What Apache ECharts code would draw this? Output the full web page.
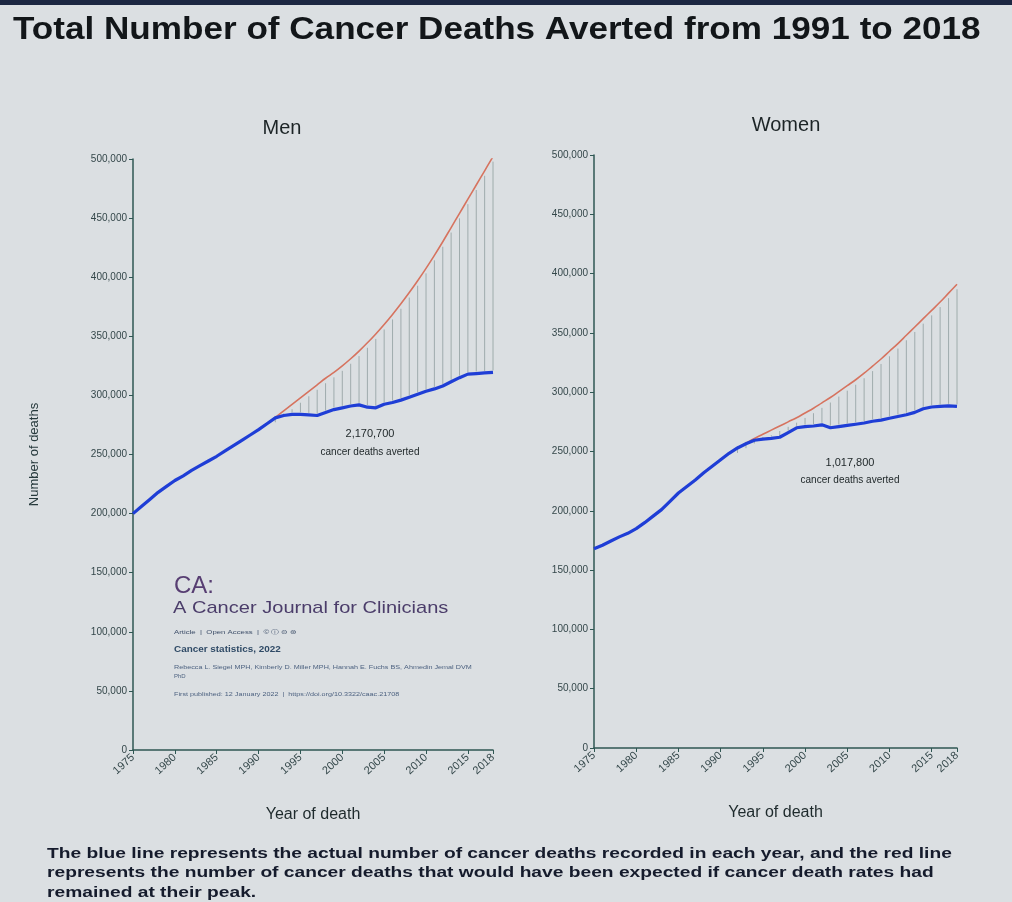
<!DOCTYPE html>
<html>
<head>
<meta charset="utf-8">
<style>
  html, body { margin: 0; padding: 0; background: #dbdfe2; }
  #chart { width: 1012px; height: 902px; }
</style>
<script src="https://cdn.jsdelivr.net/npm/echarts@6/dist/echarts.min.js"></script>
</head>
<body>
<div id="chart"></div>
<script>
// 年份（X 轴）
const years = [1975, 1976, 1977, 1978, 1979, 1980, 1981, 1982, 1983, 1984,
               1985, 1986, 1987, 1988, 1989, 1990, 1991, 1992, 1993, 1994,
               1995, 1996, 1997, 1998, 1999, 2000, 2001, 2002, 2003, 2004,
               2005, 2006, 2007, 2008, 2009, 2010, 2011, 2012, 2013, 2014,
               2015, 2016, 2017, 2018];
const peakYear = 1991;   // 死亡率峰值年份, 红线从这里开始

// 男性 实际死亡数 (蓝线)
const menActual = [200000, 206000, 212000, 218000, 223000, 228000, 232000, 236500, 240500, 244500,
                   248500, 253000, 257500, 262000, 266500, 271000, 276000, 281000, 283000, 284000,
                   284000, 283500, 283000, 285500, 288000, 289500, 291000, 292000, 290000, 289500,
                   292500, 294000, 296000, 298500, 301000, 303500, 305500, 308000, 311500, 315000,
                   318000, 318500, 319000, 319500];
// 男性 预期死亡数 1991-2018 (红线)
const menExpected = [276000, 281500, 287000, 292500, 298000, 303500, 309000, 314500, 319500, 325000,
                     331000, 337500, 344500, 352000, 360000, 368500, 377500, 387000, 397000, 407500,
                     418500, 430000, 442000, 454000, 466000, 478000, 490000, 502000];

// 女性 实际死亡数 (蓝线)
const womenActual = [168000, 171000, 174500, 178000, 181000, 185000, 190000, 195500, 201000, 208000,
                     215000, 220500, 226000, 232000, 237500, 243000, 248500, 253000, 256500, 259500,
                     260500, 261000, 262000, 266000, 270000, 271000, 271500, 272500, 270000, 271000,
                     272000, 273000, 274000, 275500, 276500, 278000, 279500, 281000, 283000, 286000,
                     287500, 288000, 288500, 288000];
// 女性 预期死亡数 1991-2018 (红线)
const womenExpected = [248500, 253000, 257000, 261000, 264500, 268000, 271500, 275000, 278500, 282500,
                       286500, 291000, 295500, 300500, 305500, 310500, 316000, 322000, 328000, 334500,
                       341000, 348000, 355000, 362000, 369000, 376000, 383500, 391000];

const avertedLabels = ['2,170,700', '1,017,800'];

const axisColor = '#2f5753';
const labelColor = '#34474a';
const font = 'Liberation Sans, Arial, sans-serif';

/**
 *  生成坐标轴配置
 *  @param { Number }  idx   grid 序号
 */
function makeXAxis(idx) {
    return {
        type: 'value', gridIndex: idx, min: 1975, max: 2018, interval: 5,
        name: 'Year of death', nameLocation: 'middle', nameGap: 57,
        nameTextStyle: { fontFamily: font, fontSize: 16, color: '#1e2a2c' },
        splitLine: { show: false },
        axisLine: { lineStyle: { color: axisColor, width: 1.5 } },
        axisTick: { lineStyle: { color: axisColor }, length: 4 },
        axisLabel: {
            rotate: 42, showMaxLabel: true, showMinLabel: true,
            fontFamily: font, fontSize: 11, color: labelColor, margin: 6,
            formatter: v => String(v)
        }
    };
}
function makeYAxis(idx, withName) {
    return {
        type: 'value', gridIndex: idx, min: 0, max: 500000, interval: 50000,
        name: withName ? 'Number of deaths' : '', nameLocation: 'middle', nameGap: 92, nameRotate: 90,
        nameTextStyle: { fontFamily: font, fontSize: 13, color: '#26393c' },
        splitLine: { show: false },
        axisLine: { show: true, lineStyle: { color: axisColor, width: 1.5 } },
        axisTick: { show: true, lineStyle: { color: axisColor }, length: 4 },
        axisLabel: {
            fontFamily: font, fontSize: 10, color: labelColor, margin: 6,
            formatter: v => v.toLocaleString('en-US')
        }
    };
}

/**
 *  生成一组系列: 阴影竖线 / 红线 / 蓝线
 */
function makeSeries(idx, actual, expected) {
    let start = years.indexOf(peakYear);
    let actualData = years.map((y, i) => [y, actual[i]]);
    let expectedData = expected.map((v, i) => [years[start + i], v]);
    let hatchData = expected.map((v, i) => [years[start + i], actual[start + i], v]).slice(1);
    return [
        {
            type: 'custom', xAxisIndex: idx, yAxisIndex: idx, z: 1, silent: true,
            data: hatchData,
            renderItem: function (params, api) {
                let p0 = api.coord([api.value(0), api.value(1)]);
                let p1 = api.coord([api.value(0), api.value(2)]);
                return {
                    type: 'line',
                    shape: { x1: p0[0], y1: p0[1] - 2, x2: p1[0], y2: p1[1] + 5 },
                    style: { stroke: '#909ea0', lineWidth: 0.8 }
                };
            }
        },
        {
            type: 'line', xAxisIndex: idx, yAxisIndex: idx, z: 2, data: expectedData,
            showSymbol: false, smooth: 0.4,
            lineStyle: { color: '#d6735f', width: 1.6 }
        },
        {
            type: 'line', xAxisIndex: idx, yAxisIndex: idx, z: 3, data: actualData,
            showSymbol: false,
            lineStyle: { color: '#1f3ed6', width: 3.2 }
        }
    ];
}

// 文本 helper
function txt(x, y, text, fontStr, fill, opts) {
    let o = opts || {};
    return {
        type: 'text', x: x, y: y, scaleX: o.scaleX || 1,
        style: { text: text, font: fontStr, fill: fill, align: o.align || 'left', verticalAlign: 'middle' }
    };
}

let chart = echarts.init(document.getElementById('chart'));
let option = {
    backgroundColor: '#dbdfe2',
    animation: false,
    grid: [
        { left: 133, top: 159, right: 519, bottom: 152 },
        { left: 594, top: 155, right: 55, bottom: 154 }
    ],
    xAxis: [makeXAxis(0), makeXAxis(1)],
    yAxis: [makeYAxis(0, true), makeYAxis(1, false)],
    series: [].concat(makeSeries(0, menActual, menExpected), makeSeries(1, womenActual, womenExpected)),
    graphic: [
        { type: 'rect', x: 0, y: 0, shape: { width: 1012, height: 5 }, style: { fill: '#1c2742' } },
        txt(13, 30, 'Total Number of Cancer Deaths Averted from 1991 to 2018', 'bold 32px ' + font, '#121619', { scaleX: 1.097 }),
        txt(282, 128, 'Men', '20px ' + font, '#1c2426', { align: 'center' }),
        txt(786, 125, 'Women', '20px ' + font, '#1c2426', { align: 'center' }),
        txt(370, 434, avertedLabels[0], '11px ' + font, '#1c2426', { align: 'center' }),
        txt(370, 452, 'cancer deaths averted', '10px ' + font, '#1c2426', { align: 'center' }),
        txt(850, 463, avertedLabels[1], '11px ' + font, '#1c2426', { align: 'center' }),
        txt(850, 480, 'cancer deaths averted', '10px ' + font, '#1c2426', { align: 'center' }),
        // CA 期刊标识
        txt(174, 586, 'CA:', '24px ' + font, '#573e72'),
        txt(173, 608, 'A Cancer Journal for Clinicians', '17px ' + font, '#4b3d6a', { scaleX: 1.18 }),
        txt(174, 632, 'Article  |  Open Access  |  \u00a9 \u24d8 \u229c \u229b', '6px ' + font, '#3c4d68', { scaleX: 1.3 }),
        txt(174, 650, 'Cancer statistics, 2022', 'bold 9px ' + font, '#2f4a66', { scaleX: 1.1 }),
        txt(174, 667, 'Rebecca L. Siegel MPH, Kimberly D. Miller MPH, Hannah E. Fuchs BS, Ahmedin Jemal DVM', '6px ' + font, '#4d6280', { scaleX: 1.2 }),
        txt(174, 676, 'PhD', '6px ' + font, '#4d6280'),
        txt(174, 694, 'First published: 12 January 2022  |  https://doi.org/10.3322/caac.21708', '6px ' + font, '#4d6280', { scaleX: 1.2 }),
        // 底部说明
        txt(47, 854, 'The blue line represents the actual number of cancer deaths recorded in each year, and the red line', 'bold 15px ' + font, '#151b2c', { scaleX: 1.28 }),
        txt(47, 873, 'represents the number of cancer deaths that would have been expected if cancer death rates had', 'bold 15px ' + font, '#151b2c', { scaleX: 1.28 }),
        txt(47, 893, 'remained at their peak.', 'bold 15px ' + font, '#151b2c', { scaleX: 1.28 })
    ]
};
chart.setOption(option);
</script>
</body>
</html>
